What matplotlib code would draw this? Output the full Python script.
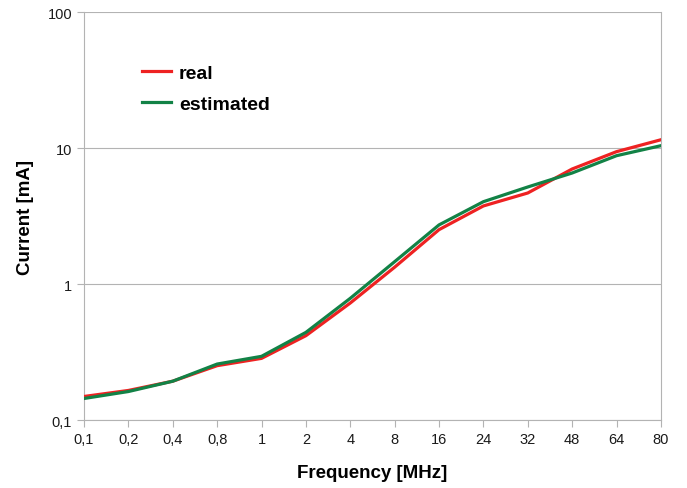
import matplotlib
matplotlib.use("Agg")
import matplotlib.pyplot as plt
from matplotlib.ticker import FixedLocator, FixedFormatter, NullLocator

plt.rcParams['font.family'] = ['Liberation Sans', 'DejaVu Sans']

# Frequency categories (MHz) and measured / estimated current (mA)
freqs = ['0,1', '0,2', '0,4', '0,8', '1', '2', '4', '8', '16', '24', '32', '48', '64', '80']
real = [0.149, 0.165, 0.193, 0.251, 0.284, 0.417, 0.725, 1.33, 2.51, 3.75, 4.67, 7.01, 9.4, 11.5]
estimated = [0.144, 0.162, 0.193, 0.258, 0.294, 0.441, 0.785, 1.46, 2.72, 4.03, 5.17, 6.55, 8.78, 10.4]

y_ticks = [0.1, 1, 10, 100]
y_labels = ['0,1', '1', '10', '100']

fig = plt.figure(figsize=(6.87, 4.89), dpi=100)
ax = fig.add_axes([0.1223, 0.139, 0.8397, 0.8344])

ind = list(range(len(freqs)))
ax.plot(ind, real, color='#ee2222', linewidth=2.3, label='real', zorder=3)
ax.plot(ind, estimated, color='#128246', linewidth=2.3, label='estimated', zorder=4)

ax.set_yscale('log')
ax.set_ylim(0.1, 100)
ax.set_xlim(0, len(freqs) - 1)

ax.yaxis.set_major_locator(FixedLocator(y_ticks))
ax.yaxis.set_major_formatter(FixedFormatter(y_labels))
ax.yaxis.set_minor_locator(NullLocator())
ax.set_xticks(ind)
ax.set_xticklabels(freqs)

ax.grid(axis='y', color='#b3b3b3', linewidth=0.8)
for side in ['left', 'right', 'bottom']:
    ax.spines[side].set_color('#b3b3b3')
ax.spines['top'].set_visible(False)
ax.tick_params(axis='both', colors='#b3b3b3', labelcolor='#1a1a1a',
               labelsize=10.5, length=5, width=0.8)

ax.set_xlabel('Frequency [MHz]', fontsize=13.5, fontweight='bold', labelpad=13)
ax.set_ylabel('Current [mA]', fontsize=13.5, fontweight='bold', labelpad=10)

# legend without frame in the upper left part of the plot area
leg = ax.legend(loc='upper left', bbox_to_anchor=(0.07, 0.915), frameon=False,
                prop={'size': 14, 'weight': 'bold'}, handlelength=1.5,
                handletextpad=0.4, labelspacing=0.7)

fig.savefig('out.png', dpi=100)
